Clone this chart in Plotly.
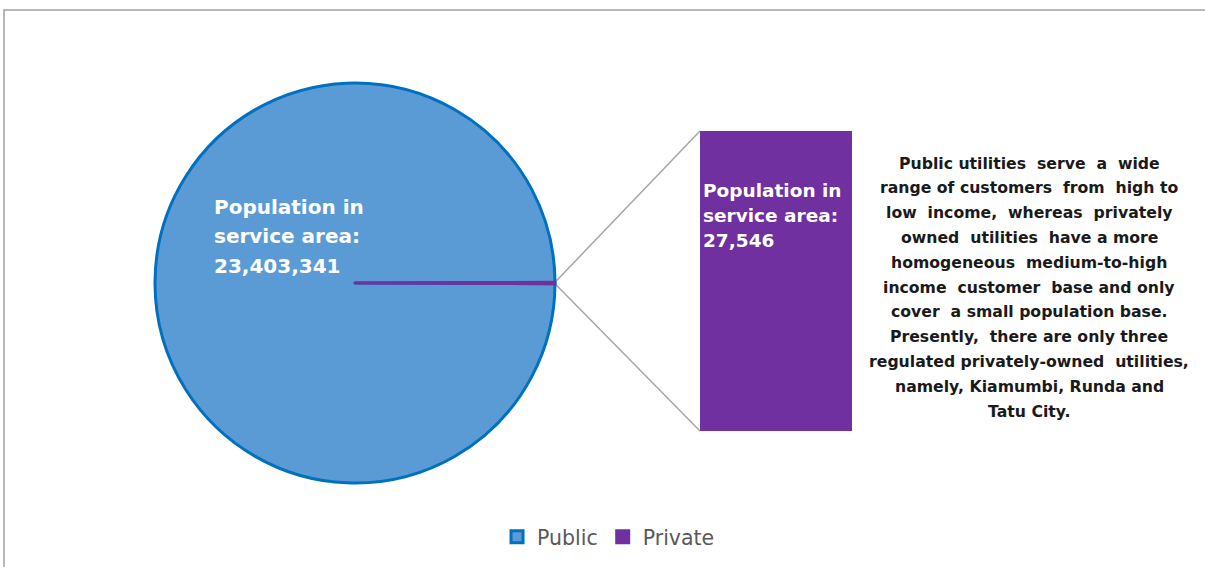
import math
import plotly.graph_objects as go

# Population served, by ownership of the utility
categories = ["Public", "Private"]
population = [23403341, 27546]
colors = ["#5B9BD5", "#7030A0"]
outline_colors = ["#0070C0", "#7030A0"]

label_lines = ["Population in", "service area:"]

note_lines = [
    "Public utilities  serve  a  wide",
    "range of customers  from  high to",
    "low  income,  whereas  privately",
    "owned  utilities  have a more",
    "homogeneous  medium-to-high",
    "income  customer  base and only",
    "cover  a small population base.",
    "Presently,  there are only three",
    "regulated privately-owned  utilities,",
    "namely, Kiamumbi, Runda and",
    "Tatu City.",
]

W, H = 1205, 567
FONT = "DejaVu Sans"

# pie geometry in pixels
cx, cy, R = 355, 283, 200
# bar-of-pie column in pixels
bx0, bx1, by0, by1 = 700, 852, 131, 431


def px(x):
    return x / W


def py(y):
    return 1 - y / H


def text_block(fig, lines, x, y0, dy, size, color, anchor):
    for i, line in enumerate(lines):
        fig.add_annotation(xref="paper", yref="paper", x=px(x), y=py(y0 + i * dy),
                           xanchor=anchor, yanchor="middle", showarrow=False,
                           text="<b>" + line + "</b>",
                           font=dict(family=FONT, size=size, color=color))


total = sum(population)
private_deg = 360 * population[1] / total

fig = go.Figure()

fig.add_trace(go.Pie(
    labels=categories,
    values=population,
    sort=False,
    direction="clockwise",
    rotation=90 + private_deg / 2,
    marker=dict(colors=colors, line=dict(color=outline_colors, width=3)),
    textinfo="none",
    hoverinfo="skip",
    domain=dict(x=[px(cx - R), px(cx + R)], y=[py(cy + R), py(cy - R)]),
    showlegend=True,
))

# secondary column breaking out the private share
fig.add_trace(go.Bar(
    x=[0],
    y=[population[1]],
    width=[1],
    marker=dict(color=colors[1], line=dict(width=0)),
    hoverinfo="skip",
    showlegend=False,
    xaxis="x",
    yaxis="y",
))

fig.update_layout(
    width=W,
    height=H,
    margin=dict(l=0, r=0, t=0, b=0),
    paper_bgcolor="white",
    plot_bgcolor="rgba(0,0,0,0)",
    xaxis=dict(domain=[px(bx0), px(bx1)], range=[-0.5, 0.5], visible=False, fixedrange=True),
    yaxis=dict(domain=[py(by1), py(by0)], range=[0, population[1]], visible=False, fixedrange=True),
    bargap=0,
    legend=dict(
        orientation="h",
        x=0.505,
        xanchor="center",
        y=py(537),
        yanchor="middle",
        font=dict(family=FONT, size=20.5, color="#595959"),
        itemwidth=30,
        bgcolor="rgba(0,0,0,0)",
    ),
)

# connector lines from the slice edges to the column corners
half = math.radians(private_deg / 2)
top_pt = (cx + R * math.cos(half), cy - R * math.sin(half))
bot_pt = (cx + R * math.cos(half), cy + R * math.sin(half))
for (x0, y0), (x1, y1) in [(top_pt, (bx0, by0)), (bot_pt, (bx0, by1))]:
    fig.add_shape(type="line", xref="paper", yref="paper",
                  x0=px(x0), y0=py(y0), x1=px(x1), y1=py(y1),
                  line=dict(color="#A6A6A6", width=1.5), layer="below")

# chart frame
fig.add_shape(type="rect", xref="paper", yref="paper",
              x0=px(4), y0=py(H + 10), x1=px(W + 10), y1=py(10),
              line=dict(color="#A0A0A0", width=1.5), fillcolor="rgba(0,0,0,0)")

# data labels
text_block(fig, label_lines + [f"{population[0]:,}"], 212, 207, 29.5, 20, "white", "left")
text_block(fig, label_lines + [f"{population[1]:,}"], 701, 190, 25.3, 18.5, "white", "left")

# explanatory note
text_block(fig, note_lines, 1029, 163, 24.8, 15.7, "#1A1A1A", "center")

fig.write_html("out.html")
